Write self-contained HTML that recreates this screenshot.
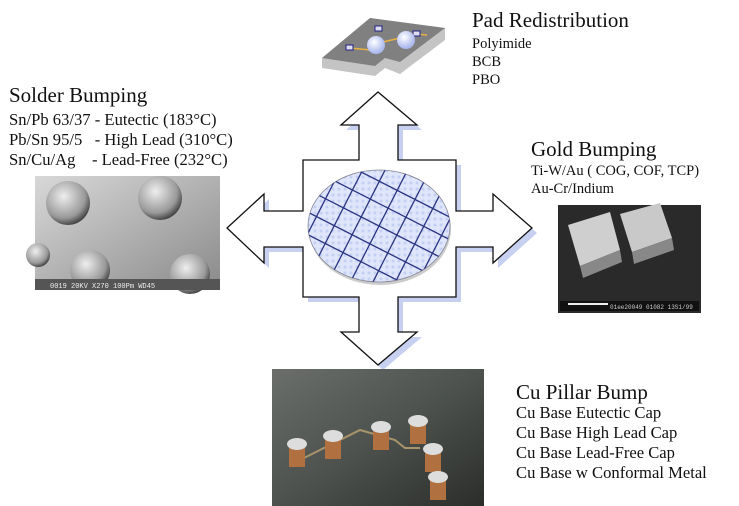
<!DOCTYPE html>
<html><head><style>
body{margin:0;width:739px;height:506px;background:#fff;position:relative;overflow:hidden;font-family:"Liberation Serif",serif;color:#111}
.t{position:absolute;white-space:nowrap}
.h{font-size:21px;line-height:24px}
.s{font-size:16.6px;line-height:20px}
.s2{font-size:14.5px;line-height:18px}
</style></head><body>
<svg width="739" height="506" style="position:absolute;left:0;top:0">
<defs>
<pattern id="g" width="6" height="6" patternUnits="userSpaceOnUse"><rect width="6" height="6" fill="#dfe6fb"/><circle cx="3" cy="3" r="1.5" fill="#c3cff3"/></pattern>
<linearGradient id="sol" x1="0" y1="0" x2="1" y2="1"><stop offset="0" stop-color="#d8d8d8"/><stop offset="1" stop-color="#8a8a8a"/></linearGradient>
<radialGradient id="ball" cx="0.4" cy="0.35" r="0.7"><stop offset="0" stop-color="#eee"/><stop offset="0.7" stop-color="#999"/><stop offset="1" stop-color="#333"/></radialGradient>
<linearGradient id="cu" x1="0" y1="0" x2="1" y2="1"><stop offset="0" stop-color="#6b6e6a"/><stop offset="0.5" stop-color="#4d524e"/><stop offset="1" stop-color="#2b2d2a"/></linearGradient>
<radialGradient id="bb" cx="0.4" cy="0.35" r="0.6"><stop offset="0" stop-color="#fff"/><stop offset="1" stop-color="#aab8ee"/></radialGradient>
</defs>
<path transform="translate(5,5)" fill="#c8d0f2" d="M378,92 L417,125 L398,125 L398,160 L456,160 L456,211 L493,211 L493,194 L532,228 L493,263 L493,247 L456,247 L456,297 L398,297 L398,332 L417,332 L378,365 L341,332 L359,332 L359,297 L303,297 L303,247 L264,247 L264,263 L227,228 L264,194 L264,211 L303,211 L303,160 L359,160 L359,125 L341,125 Z"/>
<path fill="#fff" stroke="#111" stroke-width="1.3" d="M378,92 L417,125 L398,125 L398,160 L456,160 L456,211 L493,211 L493,194 L532,228 L493,263 L493,247 L456,247 L456,297 L398,297 L398,332 L417,332 L378,365 L341,332 L359,332 L359,297 L303,297 L303,247 L264,247 L264,263 L227,228 L264,194 L264,211 L303,211 L303,160 L359,160 L359,125 L341,125 Z"/>
<ellipse cx="380" cy="229" rx="71" ry="56" fill="#ccc"/>
<clipPath id="w"><ellipse cx="379" cy="226" rx="71" ry="56"/></clipPath>
<ellipse cx="379" cy="226" rx="71" ry="56" fill="url(#g)" stroke="#889" stroke-width="0.8"/>
<g clip-path="url(#w)" stroke="#2a3380" stroke-width="1.3">
<g transform="rotate(27 379 226)">
<line x1="250" y1="166" x2="510" y2="166"/><line x1="250" y1="186" x2="510" y2="186"/><line x1="250" y1="206" x2="510" y2="206"/><line x1="250" y1="226" x2="510" y2="226"/><line x1="250" y1="246" x2="510" y2="246"/><line x1="250" y1="266" x2="510" y2="266"/><line x1="250" y1="286" x2="510" y2="286"/>
<line x1="299" y1="120" x2="299" y2="330"/><line x1="319" y1="120" x2="319" y2="330"/><line x1="339" y1="120" x2="339" y2="330"/><line x1="359" y1="120" x2="359" y2="330"/><line x1="379" y1="120" x2="379" y2="330"/><line x1="399" y1="120" x2="399" y2="330"/><line x1="419" y1="120" x2="419" y2="330"/><line x1="439" y1="120" x2="439" y2="330"/><line x1="459" y1="120" x2="459" y2="330"/>
</g></g>
<path d="M322,58 L370,18 L445,28 L445,40 L400,74 L385,68 L375,76 L322,68 Z" fill="#c4c4c4"/>
<path d="M322,58 L370,18 L445,28 L400,62 L385,58 L375,66 Z" fill="#808080"/>
<polyline points="350,48 370,50 383,42 400,38 407,33 427,35" stroke="#e8b040" fill="none" stroke-width="1.5"/>
<rect x="346" y="45" width="7" height="5" fill="#dde" stroke="#228"/><rect x="375" y="26" width="7" height="5" fill="#dde" stroke="#228"/><rect x="413" y="31" width="7" height="5" fill="#dde" stroke="#228"/>
<circle cx="376" cy="45" r="9" fill="url(#bb)"/><circle cx="406" cy="40" r="9" fill="url(#bb)"/>
<rect x="35" y="176" width="185" height="114" fill="url(#sol)"/>
<circle cx="68" cy="203" r="22" fill="url(#ball)"/><circle cx="160" cy="198" r="22" fill="url(#ball)"/>
<circle cx="90" cy="270" r="20" fill="url(#ball)"/><circle cx="190" cy="274" r="20" fill="url(#ball)"/>
<circle cx="38" cy="255" r="12" fill="url(#ball)"/>
<rect x="35" y="279" width="185" height="11" fill="#555"/>
<text x="50" y="288" font-size="7" fill="#eee" font-family="Liberation Mono">0019  20KV     X270 100Pm WD45</text>
<rect x="558" y="205" width="143" height="108" fill="#2a2a2a"/>
<path d="M568,225 L610,212 L620,250 L580,266 Z" fill="#cfcfcf"/><path d="M580,266 L620,250 L622,262 L583,278 Z" fill="#888"/>
<path d="M620,214 L660,203 L672,238 L632,252 Z" fill="#c9c9c9"/><path d="M632,252 L672,238 L674,250 L634,264 Z" fill="#888"/>
<rect x="560" y="301" width="139" height="10" fill="#111"/><rect x="568" y="303" width="40" height="2" fill="#eee"/>
<text x="610" y="309" font-size="6" fill="#ccc" font-family="Liberation Mono">01ee20049 01082 13S1/99</text>
<rect x="272" y="369" width="212" height="137" fill="url(#cu)"/>
<polyline points="300,460 360,430 395,440 405,448 420,448" stroke="#a8946a" fill="none" stroke-width="2"/>
<g>
<rect x="289" y="445" width="16" height="22" fill="#b07040"/><ellipse cx="297" cy="444" rx="10" ry="6" fill="#ddd"/>
<rect x="325" y="437" width="16" height="22" fill="#b07040"/><ellipse cx="333" cy="436" rx="10" ry="6" fill="#ddd"/>
<rect x="373" y="428" width="16" height="22" fill="#b07040"/><ellipse cx="381" cy="427" rx="10" ry="6" fill="#ddd"/>
<rect x="410" y="422" width="16" height="22" fill="#b07040"/><ellipse cx="418" cy="421" rx="10" ry="6" fill="#ddd"/>
<rect x="425" y="450" width="16" height="22" fill="#b07040"/><ellipse cx="433" cy="449" rx="10" ry="6" fill="#ddd"/>
<rect x="430" y="478" width="16" height="22" fill="#b07040"/><ellipse cx="438" cy="477" rx="10" ry="6" fill="#ddd"/>
</g>
</svg>
<div class="t h" style="left:472px;top:8px">Pad Redistribution</div>
<div class="t s2" style="left:472px;top:35px">Polyimide<br>BCB<br>PBO</div>
<div class="t h" style="left:9px;top:83px">Solder Bumping</div>
<div class="t s" style="left:9px;top:110px">Sn/Pb 63/37 - Eutectic (183°C)<br>Pb/Sn 95/5 &nbsp;&nbsp;- High Lead (310°C)<br>Sn/Cu/Ag &nbsp;&nbsp;&nbsp;- Lead-Free (232°C)</div>
<div class="t h" style="left:531px;top:137px">Gold Bumping</div>
<div class="t s2" style="left:531px;top:162px">Ti-W/Au ( COG, COF, TCP)<br>Au-Cr/Indium</div>
<div class="t h" style="left:516px;top:380px">Cu Pillar Bump</div>
<div class="t s" style="left:516px;top:403px">Cu Base Eutectic Cap<br>Cu Base High Lead Cap<br>Cu Base Lead-Free Cap<br>Cu Base w Conformal Metal</div>
</body></html>
